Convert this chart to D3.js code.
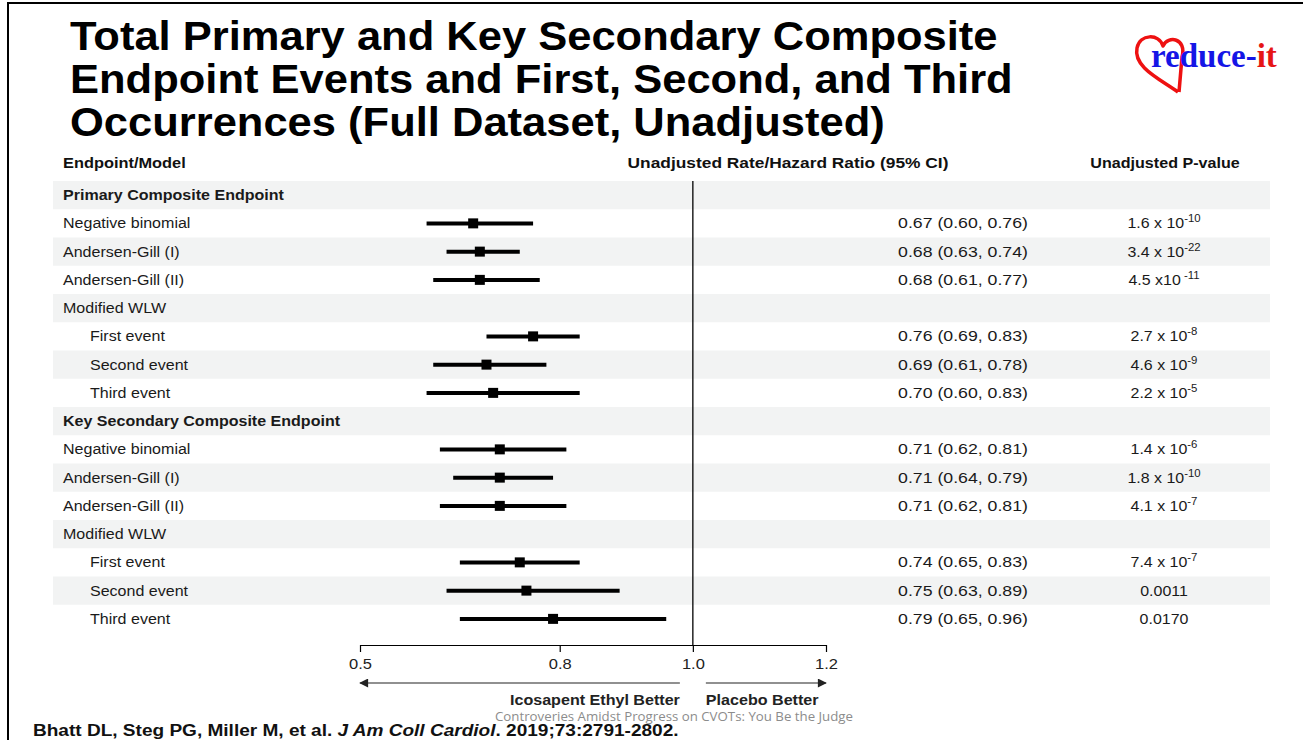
<!DOCTYPE html>
<html>
<head>
<meta charset="utf-8">
<script src="https://cdn.jsdelivr.net/npm/d3@7/dist/d3.min.js"></script>
<style>
  html, body { margin: 0; padding: 0; background: #fff; }
  svg { display: block; }
</style>
</head>
<body>
<svg id="chart" width="1303" height="740" font-family="'Liberation Sans', Arial, sans-serif"></svg>
<script>
// ---------------- DATA ----------------
const titleLines = [
  "Total Primary and Key Secondary Composite",
  "Endpoint Events and First, Second, and Third",
  "Occurrences (Full Dataset, Unadjusted)"
];
const rowLabels = [
  "Primary Composite Endpoint", "Negative binomial", "Andersen-Gill (I)", "Andersen-Gill (II)",
  "Modified WLW", "First event", "Second event", "Third event",
  "Key Secondary Composite Endpoint", "Negative binomial", "Andersen-Gill (I)", "Andersen-Gill (II)",
  "Modified WLW", "First event", "Second event", "Third event"
];
const rowKind = [
  "section", "item", "item", "item", "group", "sub", "sub", "sub",
  "section", "item", "item", "item", "group", "sub", "sub", "sub"
];
const estimates = [null, 0.67, 0.68, 0.68, null, 0.76, 0.69, 0.70, null, 0.71, 0.71, 0.71, null, 0.74, 0.75, 0.79];
const lowerCI   = [null, 0.60, 0.63, 0.61, null, 0.69, 0.61, 0.60, null, 0.62, 0.64, 0.62, null, 0.65, 0.63, 0.65];
const upperCI   = [null, 0.76, 0.74, 0.77, null, 0.83, 0.78, 0.83, null, 0.81, 0.79, 0.81, null, 0.83, 0.89, 0.96];
const pBase = [null, "1.6 x 10", "3.4 x 10", "4.5 x10", null, "2.7 x 10", "4.6 x 10", "2.2 x 10",
               null, "1.4 x 10", "1.8 x 10", "4.1 x 10", null, "7.4 x 10", "0.0011", "0.0170"];
const pExp  = [null, "-10", "-22", " -11", null, "-8", "-9", "-5",
               null, "-6", "-10", "-7", null, "-7", "", ""];
const axisTicks = [0.5, 0.8, 1.0, 1.2];
const headers = ["Endpoint/Model", "Unadjusted Rate/Hazard Ratio (95% CI)", "Unadjusted P-value"];
const favourLabels = ["Icosapent Ethyl Better", "Placebo Better"];
const footerNote = "Controveries Amidst Progress on CVOTs: You Be the Judge";

// ---------------- DRAW ----------------
const svg = d3.select("#chart");
// place text at (x,y) with a horizontal stretch, like the reference slide
function place(sel, xf, yf, sx) {
  sel.attr("transform", (d, i) => `translate(${typeof xf === "function" ? xf(d, i) : xf},${typeof yf === "function" ? yf(d, i) : yf}) scale(${sx},1)`);
  return sel;
}

// frame
svg.append("path").attr("d", "M8,740 L8,3 L1303,3")
  .attr("fill", "none").attr("stroke", "#000").attr("stroke-width", 2);

// title
place(svg.append("g").selectAll("text").data(titleLines).join("text")
  .attr("font-size", 40).attr("font-weight", "bold").attr("fill", "#000")
  .text(d => d), 70, (d, i) => 50 + i * 43, 1.088);

// logo
const logo = svg.append("g");
logo.append("path")
  .attr("d", "M1178,92 C1160,79 1133,67 1137,48 C1140,34 1159,33 1163,46 C1168,35 1187,38 1182,57 L1179,92")
  .attr("fill", "none").attr("stroke", "#ee1111").attr("stroke-width", 3.5).attr("stroke-linejoin", "round");
const lt = logo.append("text").attr("x", 1151).attr("y", 67)
  .attr("font-family", "'Liberation Serif', 'Times New Roman', serif")
  .attr("font-size", 33).attr("font-weight", "bold");
lt.append("tspan").attr("fill", "#1515e6").text("reduce-");
lt.append("tspan").attr("fill", "#e61515").text("it");

// scales
const x = d3.scaleLinear().domain([0.5, 1.2]).range([360, 826]);
const y = d3.scaleBand().domain(d3.range(rowLabels.length)).range([181, 633]).paddingInner(0);
const yc = i => y(i) + y.bandwidth() / 2;

// headers
const hdrX = [63, 788, 1165], hdrAnchor = ["start", "middle", "middle"], hdrSx = [1.17, 1.24, 1.15];
svg.append("g").selectAll("text").data(headers).join("text")
  .attr("font-size", 14).attr("font-weight", "bold").attr("fill", "#111")
  .attr("text-anchor", (d, i) => hdrAnchor[i])
  .attr("transform", (d, i) => `translate(${hdrX[i]},168) scale(${hdrSx[i]},1)`)
  .text(d => d);

// row bands
svg.append("g").selectAll("rect").data(d3.range(rowLabels.length).filter(i => i % 2 === 0)).join("rect")
  .attr("x", 53).attr("width", 1217)
  .attr("y", i => y(i)).attr("height", y.bandwidth())
  .attr("fill", "#f2f3f3");

// row labels
place(svg.append("g").selectAll("text").data(rowLabels).join("text")
  .attr("font-size", 15)
  .attr("font-weight", (d, i) => rowKind[i] === "section" ? "bold" : "normal")
  .attr("fill", "#1a1a1a")
  .text(d => d), (d, i) => rowKind[i] === "sub" ? 90 : 63, (d, i) => yc(i) + 5, 1.07);

// reference line at 1.0
svg.append("line").attr("x1", x(1)).attr("x2", x(1)).attr("y1", 181).attr("y2", 645)
  .attr("stroke", "#000").attr("stroke-width", 1.3);

// CI bars and markers
const dataRows = d3.range(rowLabels.length).filter(i => estimates[i] != null);
const g = svg.append("g");
g.selectAll("line.ci").data(dataRows).join("line").attr("class", "ci")
  .attr("x1", i => x(lowerCI[i])).attr("x2", i => x(upperCI[i]))
  .attr("y1", i => yc(i)).attr("y2", i => yc(i))
  .attr("stroke", "#000").attr("stroke-width", 4);
g.selectAll("rect.pt").data(dataRows).join("rect").attr("class", "pt")
  .attr("x", i => x(estimates[i]) - 5).attr("y", i => yc(i) - 5)
  .attr("width", 10).attr("height", 10).attr("fill", "#000");

// CI text
const fmt = d3.format(".2f");
place(svg.append("g").selectAll("text").data(dataRows).join("text")
  .attr("text-anchor", "middle").attr("font-size", 15).attr("fill", "#1a1a1a")
  .text(i => `${fmt(estimates[i])} (${fmt(lowerCI[i])}, ${fmt(upperCI[i])})`),
  963, i => yc(i) + 5, 1.18);

// p-values
const pg = place(svg.append("g").selectAll("text").data(dataRows).join("text")
  .attr("text-anchor", "middle").attr("font-size", 14).attr("fill", "#1a1a1a"),
  1164, i => yc(i) + 5, 1.14);
pg.append("tspan").text(i => pBase[i]);
pg.filter(i => pExp[i]).append("tspan").attr("dy", -6).attr("font-size", 10)
  .style("white-space", "pre").text(i => pExp[i]);

// axis
const axis = d3.axisBottom(x).tickValues(axisTicks).tickFormat(d3.format(".1f"))
  .tickSize(7).tickSizeOuter(0).tickPadding(6);
const ag = svg.append("g").attr("transform", "translate(0,645)").call(axis);
ag.attr("font-family", null).attr("font-size", null);
ag.select(".domain").attr("stroke", "#000").attr("stroke-width", 1.2);
ag.selectAll(".tick line").attr("stroke", "#000").attr("stroke-width", 1.2);
ag.selectAll(".tick text").attr("font-size", 15).attr("fill", "#222")
  .attr("transform", "scale(1.1,1)");

// arrows
const defs = svg.append("defs");
defs.append("marker").attr("id", "arr").attr("viewBox", "0 0 10 10")
  .attr("refX", 9).attr("refY", 5).attr("markerWidth", 12).attr("markerHeight", 9)
  .attr("markerUnits", "userSpaceOnUse").attr("orient", "auto")
  .append("path").attr("d", "M0,0 L10,5 L0,10 Z").attr("fill", "#222");
svg.append("line").attr("x1", x(1) - 13).attr("x2", x(0.5)).attr("y1", 683).attr("y2", 683)
  .attr("stroke", "#222").attr("stroke-width", 1.2).attr("marker-end", "url(#arr)");
svg.append("line").attr("x1", x(1) + 13).attr("x2", x(1.2)).attr("y1", 683).attr("y2", 683)
  .attr("stroke", "#222").attr("stroke-width", 1.2).attr("marker-end", "url(#arr)");
svg.append("text").attr("text-anchor", "end")
  .attr("transform", `translate(${x(1) - 13},705) scale(1.15,1)`)
  .attr("font-size", 14).attr("font-weight", "bold").attr("fill", "#222").text(favourLabels[0]);
svg.append("text")
  .attr("transform", `translate(${x(1) + 13},705) scale(1.15,1)`)
  .attr("font-size", 14).attr("font-weight", "bold").attr("fill", "#222").text(favourLabels[1]);

// footer note
svg.append("text").attr("x", 674).attr("y", 720.5).attr("text-anchor", "middle")
  .attr("font-family", "'Open Sans', sans-serif").attr("font-size", 12).attr("fill", "#8c8c8c")
  .attr("textLength", 358).attr("lengthAdjust", "spacingAndGlyphs")
  .text(footerNote);

// citation
const cit = svg.append("text").attr("transform", "translate(33,736) scale(1.19,1)")
  .attr("font-size", 16).attr("font-weight", "bold").attr("fill", "#111");
cit.append("tspan").text("Bhatt DL, Steg PG, Miller M, et al. ");
cit.append("tspan").attr("font-style", "italic").text("J Am Coll Cardiol");
cit.append("tspan").text(". 2019;73:2791-2802.");
</script>
</body>
</html>
